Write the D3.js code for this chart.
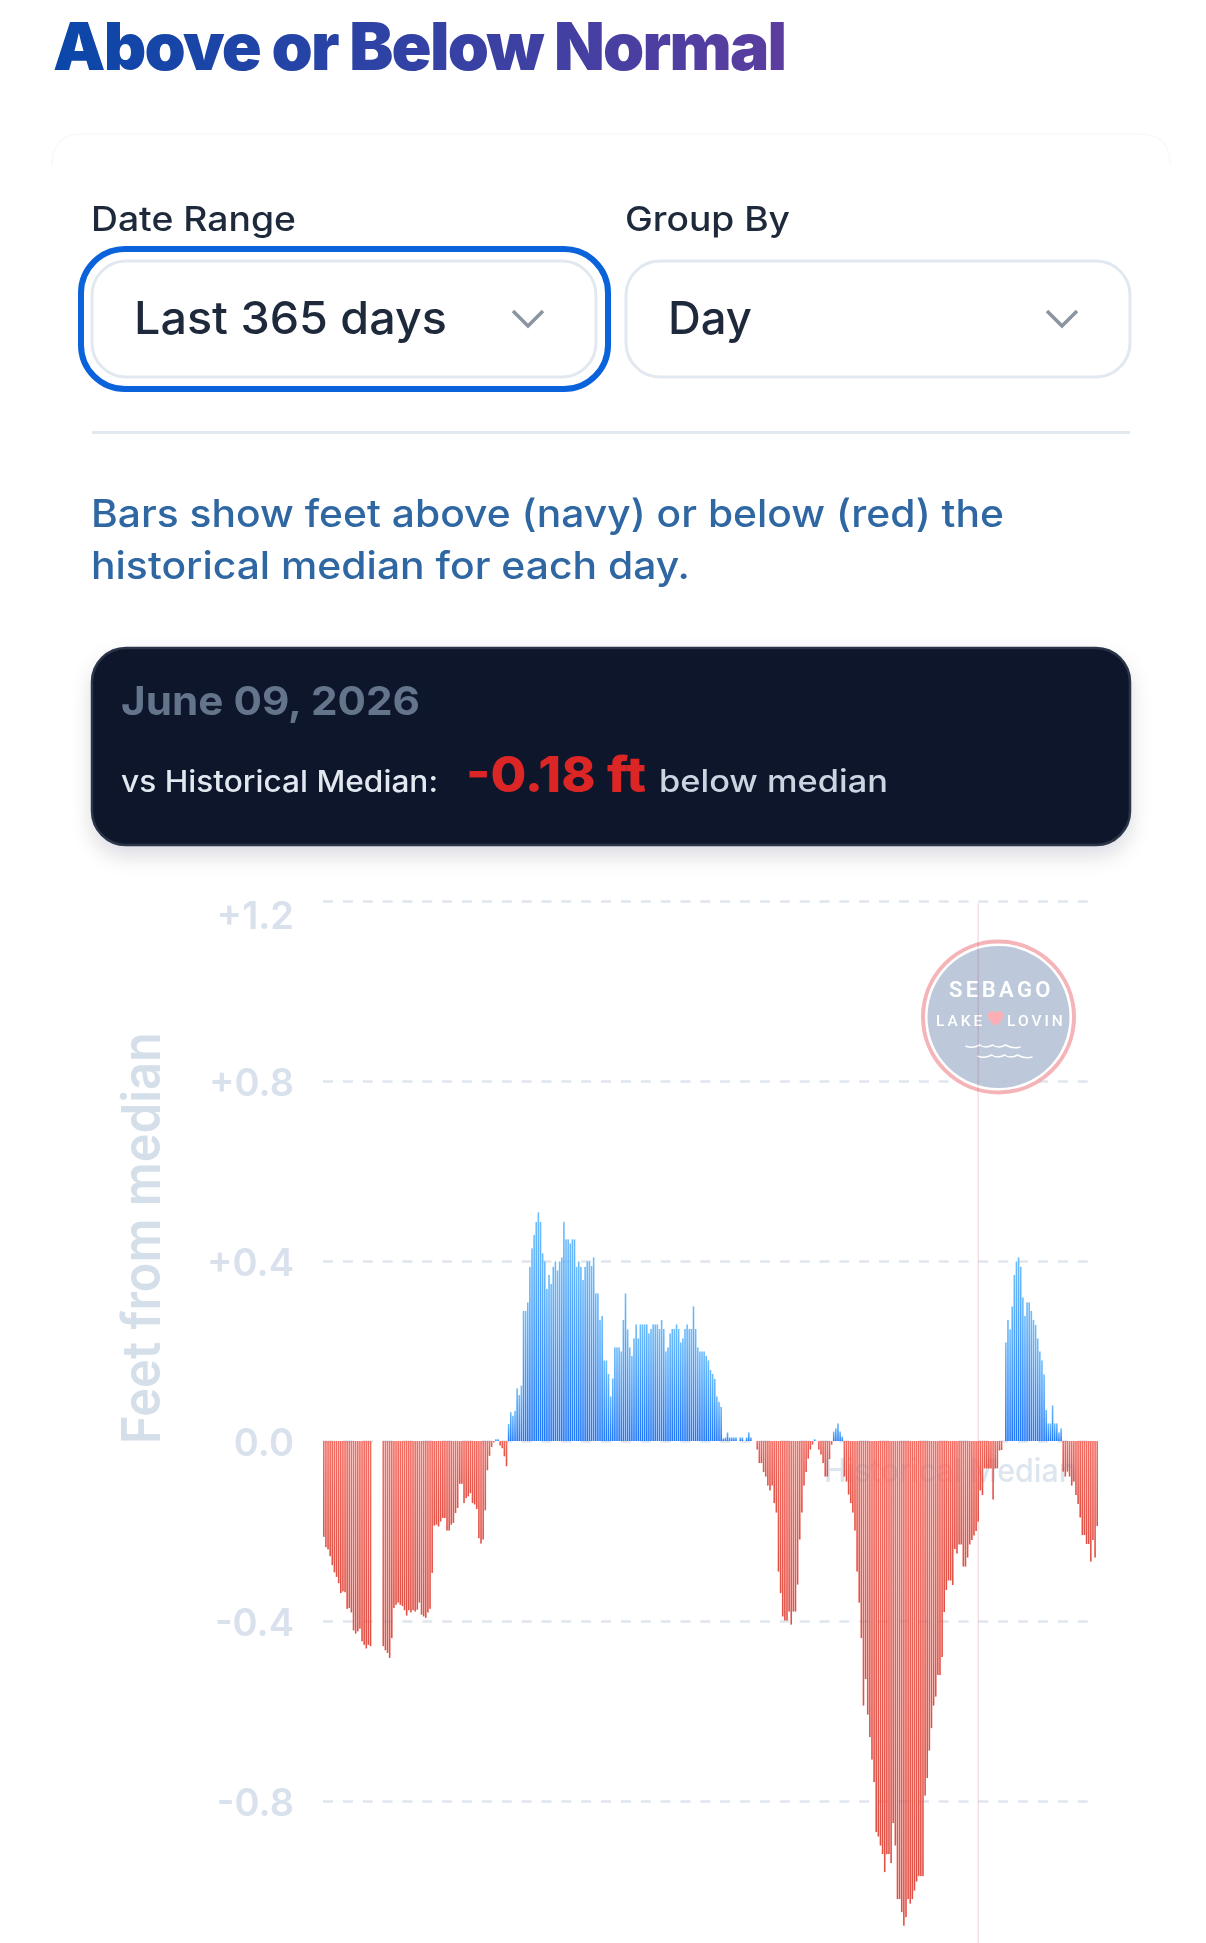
<!DOCTYPE html>
<html>
<head>
<meta charset="utf-8">
<title>Above or Below Normal</title>
<script src="https://cdn.jsdelivr.net/npm/d3@7"></script>
<style>
    html, body { margin: 0; padding: 0; background: #fff; }
    svg { display: block; }
</style>
</head>
<body>
<div id="chart"></div>
<script>
// feet above/below median, one per day. null = no bar that day
const deviations = [
    -.213,-.236,-.241,-.256,-.276,-.292,-.302,-.316,-.338,-.334,-.336,-.373,-.371,-.381,-.421,-.428,-.423,-.417,-.445,-.453,-.461,-.453,-.456,
    null,null,null,null,null,
    -.456,-.465,-.471,-.482,-.438,-.371,-.364,-.359,-.364,-.367,-.376,-.388,-.376,-.381,-.376,-.379,-.375,-.359,-.386,-.39,-.393,-.381,-.373,-.293,
    -.188,-.186,-.19,-.179,-.171,-.171,-.199,-.199,-.186,-.182,-.16,-.149,-.095,-.095,-.138,-.127,-.123,-.116,-.138,-.141,-.151,-.216,-.228,-.219,-.154,-.065,-.033,-.013,-.003,
    .004,.004,-.01,-.016,-.034,-.056,
    .038,.064,.056,.067,.117,.102,.123,.289,.289,.308,.387,.428,.458,.487,.508,.487,.417,.399,.338,.369,.349,.387,.399,.379,.399,.408,.487,.448,.448,.439,.448,.448,.387,.399,.387,.358,.387,.399,.399,.389,.408,.328,.328,.269,.278,
    .179,.179,.149,.099,.139,.208,.208,.208,.199,.269,.328,.248,.208,.189,.228,.259,.228,.259,.259,.259,.259,.239,.249,.259,.259,.259,.249,.269,.249,.199,.208,.239,.249,.249,.259,.249,.219,.228,.249,.259,.249,.249,.299,.249,.208,.199,.199,.199,.189,.179,.158,.149,.138,.099,.087,.076,
    .006,.008,.019,.008,.008,.008,.008,null,.008,.008,null,.008,.019,.008,
    null,null,
    -.019,-.049,-.049,-.069,-.079,-.099,-.11,-.099,-.138,-.159,-.29,-.338,-.39,-.399,-.399,-.379,-.408,-.379,-.379,-.319,-.219,-.159,-.099,-.069,-.039,-.019,-.008,
    .004,null,
    -.019,-.03,-.049,-.079,-.079,-.04,-.008,
    .021,.028,.039,.021,.01,
    -.079,-.09,-.119,-.138,-.159,-.199,-.29,-.359,-.438,-.588,-.529,-.608,-.658,-.708,-.758,-.869,-.879,-.899,-.918,-.958,-.918,-.918,-.938,-.849,-.899,-1.018,-1.018,-1.047,-1.077,-1.058,-1.018,-1.028,-1.018,-.999,-.979,-.967,-.967,-.967,-.788,-.749,-.688,-.638,-.588,-.568,-.52,-.52,-.48,-.38,-.331,-.31,-.31,-.32,-.24,-.25,-.23,-.23,-.279,-.279,-.259,-.23,-.22,-.21,-.2,-.179,-.11,-.12,-.061,-.061,-.061,-.061,-.13,-.061,-.061,-.021,-.02,
    null,
    .219,.269,.248,.299,.369,.399,.408,.387,.319,.278,.308,.308,.289,.269,.258,.228,.199,.179,.148,.069,.039,.039,.079,.039,.039,.019,.028,
    -.068,-.079,-.068,-.079,-.099,-.09,-.12,-.14,-.17,-.209,-.209,-.229,-.229,-.268,-.22,-.259,-.189
]
const tickValues = [1.2, 0.8, 0.4, 0, -0.4, -0.8]
const tickLabels = ['+1.2', '+0.8', '+0.4', '0.0', '-0.4', '-0.8']
const selectedDay = 308

const width = 1206
const height = 1943

const svg = d3.select('#chart').append('svg')
    .attr('width', width)
    .attr('height', height)
const defs = svg.append('defs')

function addGradient(id, stops, horizontal) {
    const grad = defs.append('linearGradient')
        .attr('id', id)
        .attr('x1', 0).attr('y1', 0)
        .attr('x2', horizontal ? 1 : 0).attr('y2', horizontal ? 0 : 1)
    stops.forEach((c, i) => grad.append('stop').attr('offset', i / (stops.length - 1)).attr('stop-color', c))
}
addGradient('titleFill', ['#0a47a9', '#5b3d9f'], true)
addGradient('blueBar', ['#6dbcfb', '#1f76f7'])
addGradient('redBar', ['#f36c62', '#e15045'])

const shadow = defs.append('filter').attr('id', 'cardShadow')
    .attr('x', '-10%').attr('y', '-20%').attr('width', '120%').attr('height', '150%')
shadow.append('feDropShadow')
    .attr('dx', 0).attr('dy', 10).attr('stdDeviation', 10)
    .attr('flood-color', '#0f172a').attr('flood-opacity', 0.14)

function addText(parent, str, x, y, size, weight, color, family) {
    return parent.append('text')
        .attr('x', x).attr('y', y)
        .attr('font-family', family || 'Inter')
        .attr('font-size', size)
        .attr('font-weight', weight)
        .attr('fill', color)
        .text(str)
}

// the reference glyphs run a bit wider than Inter, so stretch to the measured widths
function fitWidth(sel, w) {
    return sel.attr('textLength', w).attr('lengthAdjust', 'spacingAndGlyphs')
}

// header and controls
addText(svg, 'Above or Below Normal', 53, 70, 66, 900, 'url(#titleFill)')
    .attr('letter-spacing', -1.75)

// only the top of the page card shows in the picture
svg.append('path')
    .attr('d', 'M52,165 Q52,134 82,134 L1140,134 Q1170,134 1170,165')
    .attr('fill', 'none').attr('stroke', '#f8f9fb').attr('stroke-width', 1.5)

const controls = [
    { label: 'Date Range', value: 'Last 365 days', x: 92, labelWidth: 205, valueWidth: 313 },
    { label: 'Group By', value: 'Day', x: 626, labelWidth: 165, valueWidth: 84 }
]
const selectWidth = 504
svg.append('rect')
    .attr('x', 81).attr('y', 249).attr('width', 527).attr('height', 140).attr('rx', 44)
    .attr('fill', 'none').attr('stroke', '#0b63dc').attr('stroke-width', 6)
controls.forEach(c => {
    fitWidth(addText(svg, c.label, c.x - 1, 231, 33.5, 500, '#1e293b'), c.labelWidth)
    svg.append('rect')
        .attr('x', c.x).attr('y', 261).attr('width', selectWidth).attr('height', 116).attr('rx', 34)
        .attr('fill', '#fff').attr('stroke', '#e2e8f0').attr('stroke-width', 3)
    fitWidth(addText(svg, c.value, c.x + 42, 334, 45, 500, '#1e293b'), c.valueWidth)
    svg.append('path')
        .attr('d', d3.line()([[c.x + 421, 311], [c.x + 436, 326], [c.x + 451, 311]]))
        .attr('fill', 'none').attr('stroke', '#8b95a1').attr('stroke-width', 3.5)
})
svg.append('rect')
    .attr('x', 92).attr('y', 431).attr('width', 1038).attr('height', 3).attr('fill', '#e2e8f0')

fitWidth(addText(svg, 'Bars show feet above (navy) or below (red) the', 91, 527, 38, 500, '#2f67a3'), 913)
fitWidth(addText(svg, 'historical median for each day.', 91, 579, 38, 500, '#2f67a3'), 599)

// readout card
svg.append('rect')
    .attr('x', 92).attr('y', 648).attr('width', 1038).attr('height', 197).attr('rx', 34)
    .attr('fill', '#11182c').attr('stroke', '#2b3448').attr('stroke-width', 2.5)
    .attr('filter', 'url(#cardShadow)')
fitWidth(addText(svg, 'June 09, 2026', 121, 715, 40, 700, '#64748b'), 299)
fitWidth(addText(svg, 'vs Historical Median:', 121, 792, 30, 500, '#e2e8f0'), 317)
fitWidth(addText(svg, '-0.18 ft', 466, 792, 49, 800, '#dc2626'), 180)
fitWidth(addText(svg, 'below median', 659, 792, 31, 500, '#cbd5e1'), 229)

// scales
const x = d3.scaleBand()
    .domain(d3.range(deviations.length))
    .range([323, 1098])
    .paddingInner(0.25)
const y = d3.scaleLinear()
    .domain([-0.8, 1.2])
    .range([1801, 901])

// grid comes from the axis ticks
const axis = d3.axisLeft(y)
    .tickValues(tickValues)
    .tickSize(-(1088 - 323))
    .tickPadding(29)
    .tickFormat((d, i) => tickLabels[i])
const axisG = svg.append('g')
    .attr('transform', 'translate(323,0)')
    .call(axis)
axisG.select('.domain').remove()
axisG.selectAll('.tick line')
    .attr('stroke', '#dfe6ef')
    .attr('stroke-width', 2.5)
    .attr('stroke-dasharray', '10 9.86')
axisG.selectAll('.tick text')
    .attr('font-family', 'Inter')
    .attr('font-size', 38)
    .attr('font-weight', 600)
    .attr('fill', '#d9e1ec')
    .attr('dy', (d, i) => i === 0 ? '0.72em' : '0.37em')

fitWidth(svg.append('text')
    .attr('transform', 'translate(160,1444) rotate(-90)')
    .attr('font-family', 'Inter')
    .attr('font-size', 53)
    .attr('font-weight', 600)
    .attr('fill', '#d5dfea')
    .text('Feet from median'), 412)

// watermark logo
const logo = svg.append('g').attr('transform', 'translate(998.5,1017)').attr('opacity', 0.92)
logo.append('circle').attr('r', 75.5).attr('fill', '#fff').attr('stroke', '#f4aeb3').attr('stroke-width', 4)
logo.append('circle').attr('r', 71).attr('fill', '#b8c5d8')
addText(logo, 'SEBAGO', -49.5, -20, 22, 600, '#fff', 'Roboto').attr('letter-spacing', 3.4)
addText(logo, 'LAKE', -62.5, 9, 15.5, 500, '#fff', 'Roboto').attr('letter-spacing', 3)
addText(logo, 'LOVIN', 8.5, 9, 15.5, 500, '#fff', 'Roboto').attr('letter-spacing', 3)
logo.append('path')
    .attr('d', 'M-3,9 C-14,1 -11,-6 -6.5,-6 C-4.5,-6 -3.5,-5 -3,-3 C-2.5,-5 -1.5,-6 .5,-6 C5,-6 8,1 -3,9 Z')
    .attr('fill', '#fba9ae')
;[[-33, 29], [-21, 39]].forEach(p => {
    logo.append('path')
        .attr('transform', `translate(${p[0]},${p[1]})`)
        .attr('d', 'M0,0 Q7,3 14,-1 Q20,3 27,-1 Q33,3 40,-1 Q47,3 55,1')
        .attr('fill', 'none').attr('stroke', '#fff').attr('stroke-width', 1.5)
})

// median label sits under the bars
fitWidth(addText(svg, 'Historical Median', 824, 1482, 32, 500, '#dde5ef'), 253)

// crosshair on the selected day
svg.append('line')
    .attr('x1', x(selectedDay) + x.bandwidth() / 2).attr('x2', x(selectedDay) + x.bandwidth() / 2)
    .attr('y1', 903).attr('y2', height)
    .attr('stroke', '#f7e0e2').attr('stroke-width', 1.5)
    .style('mix-blend-mode', 'multiply')

// bars
svg.append('g')
    .selectAll('rect')
    .data(deviations.map((v, i) => ({ v, i })).filter(d => d.v !== null))
    .enter()
    .append('rect')
    .attr('x', d => x(d.i))
    .attr('width', x.bandwidth())
    .attr('y', d => y(Math.max(0, d.v)))
    .attr('height', d => Math.abs(y(d.v) - y(0)))
    .attr('fill', d => d.v > 0 ? 'url(#blueBar)' : 'url(#redBar)')
</script>
</body>
</html>
